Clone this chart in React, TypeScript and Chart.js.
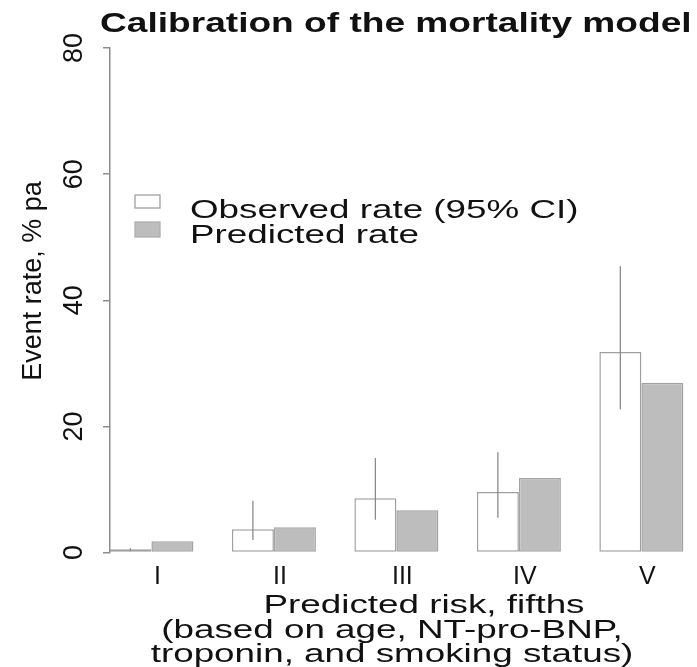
import React, { useEffect, useRef } from "react";
import { Chart, registerables } from "chart.js";

Chart.register(...registerables);

// ---- data ----
const categories = ["I", "II", "III", "IV", "V"];
const observedRate = [0.5, 3.7, 8.6, 9.6, 31.8];
const predictedRate = [1.8, 4.0, 6.7, 11.8, 26.9];
const ciLower = [0.2, 2.0, 5.2, 5.5, 22.7];
const ciUpper = [0.7, 8.2, 15.0, 15.9, 45.4];
const yTicks = [0, 20, 40, 60, 80];
const seriesLabels = ["Observed rate (95% CI)", "Predicted rate"];
const titleText = "Calibration of the mortality model";
const yTitleText = "Event rate, % pa";
const xTitleLines = [
  "Predicted risk, fifths",
  "(based on age, NT-pro-BNP,",
  "troponin, and smoking status)",
];

const FONT = '"Liberation Sans", Arial, sans-serif';
const AXIS_GRAY = "#8c8c8c";

function stretchedText(
  ctx: CanvasRenderingContext2D,
  text: string,
  x: number,
  y: number,
  font: string,
  sx: number,
  align: CanvasTextAlign
) {
  ctx.save();
  ctx.font = font;
  ctx.textAlign = align;
  ctx.textBaseline = "alphabetic";
  ctx.fillStyle = "#111";
  ctx.translate(x, y);
  ctx.scale(sx, 1);
  ctx.fillText(text, 0, 0);
  ctx.restore();
}

const overlayPlugin = {
  id: "overlay",
  afterDatasetsDraw(chart: any) {
    const ctx: CanvasRenderingContext2D = chart.ctx;
    const y = chart.scales.y;
    const meta = chart.getDatasetMeta(0);
    ctx.save();
    ctx.strokeStyle = "#8a8a8a";
    ctx.lineWidth = 1.3;
    ciLower.forEach((lo, i) => {
      const bar = meta.data[i];
      if (!bar) return;
      ctx.beginPath();
      ctx.moveTo(bar.x, y.getPixelForValue(lo));
      ctx.lineTo(bar.x, y.getPixelForValue(ciUpper[i]));
      ctx.stroke();
    });
    ctx.restore();
  },
  afterDraw(chart: any) {
    const ctx: CanvasRenderingContext2D = chart.ctx;
    // title
    stretchedText(ctx, titleText, 100, 32, `bold 28px ${FONT}`, 1.325, "left");

    // y axis title (rotated)
    ctx.save();
    ctx.font = `27px ${FONT}`;
    ctx.fillStyle = "#111";
    ctx.textAlign = "center";
    ctx.textBaseline = "alphabetic";
    ctx.translate(41, 281);
    ctx.rotate(-Math.PI / 2);
    ctx.fillText(yTitleText, 0, 0);
    ctx.restore();

    // legend
    ctx.save();
    ctx.lineWidth = 1.3;
    ctx.strokeStyle = "#a0a0a0";
    ctx.fillStyle = "#ffffff";
    ctx.fillRect(135, 195, 25, 13);
    ctx.strokeRect(135, 195, 25, 13);
    ctx.fillStyle = "#bdbdbd";
    ctx.strokeStyle = "#b0b0b0";
    ctx.fillRect(135, 222, 25, 15);
    ctx.strokeRect(135, 222, 25, 15);
    ctx.restore();
    stretchedText(ctx, seriesLabels[0], 190, 218, `26px ${FONT}`, 1.415, "left");
    stretchedText(ctx, seriesLabels[1], 190, 243, `26px ${FONT}`, 1.415, "left");

    // x axis title
    const xCenters = [424, 392, 392];
    const xBase = [613, 638, 662];
    xTitleLines.forEach((line, i) => {
      stretchedText(ctx, line, xCenters[i], xBase[i], `26px ${FONT}`, 1.415, "center");
    });
  },
};

export default function App() {
  const canvasRef = useRef<HTMLCanvasElement | null>(null);

  useEffect(() => {
    const canvas = canvasRef.current;
    if (!canvas) return;
    const chart = new Chart(canvas, {
      type: "bar",
      data: {
        datasets: [
          {
            label: seriesLabels[0],
            data: observedRate.map((v, i) => ({ x: i, y: v })),
            backgroundColor: "#ffffff",
            borderColor: "#a0a0a0",
            borderWidth: 1.5,
            borderSkipped: false,
          },
          {
            label: seriesLabels[1],
            data: predictedRate.map((v, i) => ({ x: i, y: v })),
            backgroundColor: "#bdbdbd",
            borderColor: "#a3a3a3",
            borderWidth: 1.5,
            borderSkipped: false,
          },
        ],
      } as any,
      options: {
        responsive: false,
        animation: false,
        layout: { padding: { top: 48, right: 7, left: 0, bottom: 0 } },
        plugins: {
          legend: { display: false },
          tooltip: { enabled: false },
          title: { display: false },
        },
        datasets: { bar: { categoryPercentage: 0.686, barPercentage: 1 } },
        scales: {
          x: {
            type: "linear",
            min: -0.338,
            max: 4.397,
            offset: false,
            afterBuildTicks: (s: any) => {
              s.ticks = categories.map((_, i) => ({ value: i }));
            },
            afterFit: (s: any) => {
              s.height = 114.5;
            },
            grid: { display: false, drawTicks: false, offset: false },
            border: { display: false },
            ticks: {
              callback: (v: any) => categories[v] ?? "",
              font: { family: FONT, size: 25 },
              color: "#111",
              padding: 10,
              labelOffset: 6,
              autoSkip: false,
              maxRotation: 0,
              minRotation: 0,
            },
          },
          y: {
            min: 0,
            max: 80,
            afterBuildTicks: (s: any) => {
              s.ticks = yTicks.map((v) => ({ value: v }));
            },
            afterFit: (s: any) => {
              s.width = 110;
            },
            grid: {
              drawOnChartArea: false,
              drawTicks: true,
              tickLength: 7,
              color: AXIS_GRAY,
              lineWidth: 1.5,
            },
            border: { display: true, color: AXIS_GRAY, width: 1.5 },
            ticks: {
              minRotation: 90,
              maxRotation: 90,
              crossAlign: "center",
              padding: 13,
              font: { family: FONT, size: 27 },
              color: "#111",
              autoSkip: false,
            },
          },
        },
      } as any,
      plugins: [overlayPlugin],
    });
    return () => chart.destroy();
  }, []);

  return (
    <div style={{ position: "fixed", left: 0, top: 0, width: 697, height: 667, background: "#fff" }}>
      <canvas ref={canvasRef} width={697} height={667} style={{ display: "block" }} />
    </div>
  );
}
